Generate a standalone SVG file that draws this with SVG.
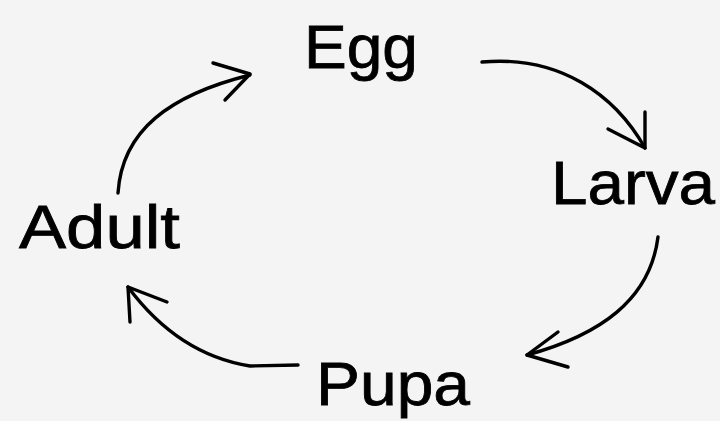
<svg xmlns="http://www.w3.org/2000/svg" width="720" height="421" viewBox="0 0 720 421">
<style>
.lbl{font-family:"Liberation Sans",Arial,sans-serif;font-size:62px;fill:#000;stroke:#000;stroke-width:0.8}
.c{fill:none;stroke:#000;stroke-width:3.4;stroke-linecap:round;stroke-linejoin:round}
</style>
<rect width="720" height="421" fill="#f4f4f4"/>
<g id="egg"><text class="lbl" x="304" y="68" textLength="114" lengthAdjust="spacingAndGlyphs">Egg</text></g>
<g id="larva"><text class="lbl" x="551" y="204" textLength="164" lengthAdjust="spacingAndGlyphs">Larva</text></g>
<g id="pupa"><text class="lbl" x="316" y="405" textLength="154" lengthAdjust="spacingAndGlyphs">Pupa</text></g>
<g id="adult"><text class="lbl" x="19" y="248" textLength="161" lengthAdjust="spacingAndGlyphs">Adult</text></g>
<g id="connectors">
<path class="c" d="M118 193 C122 130 170 95 250 75"/>
<path class="c" d="M213 63 L250 74 L225 100"/>
<path class="c" d="M482 62 C560 55 615 95 645 148"/>
<path class="c" d="M645 112 L645 148 L608 129"/>
<path class="c" d="M658 237 C650 300 600 335 527 355"/>
<path class="c" d="M558 332 L527 355 L568 367"/>
<path class="c" d="M298 365 L250 366 C200 358 160 330 128 287"/>
<path class="c" d="M167 302 L128 287 L130 322"/>
</g>
</svg>
